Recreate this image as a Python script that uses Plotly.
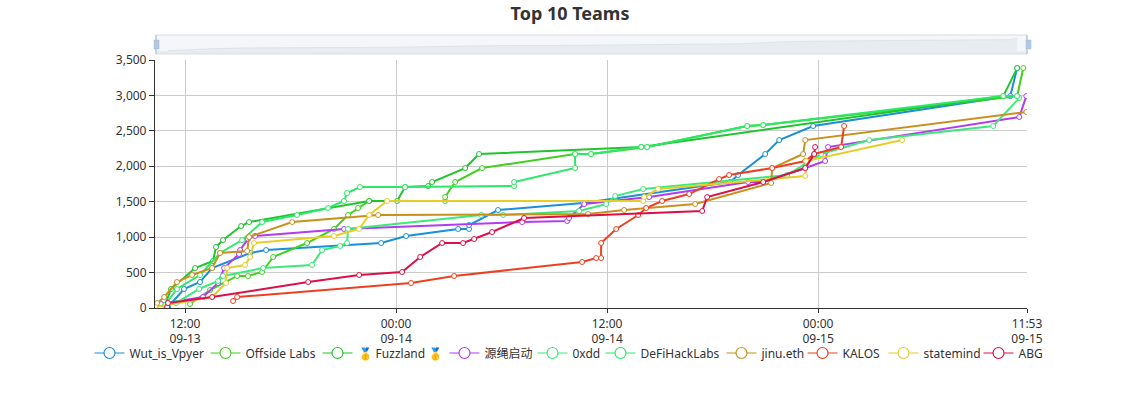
import pandas as pd
import plotly.graph_objects as go

START = pd.Timestamp("2023-09-13 00:00")

team_names = ["Wut_is_Vpyer", "Offside Labs", "🥇 Fuzzland 🥇", "源绳启动", "0xdd",
              "DeFiHackLabs", "jinu.eth", "KALOS", "statemind", "ABG"]
team_colors = ["#1a90d8", "#40d020", "#22c42e", "#b13cf0", "#3ee87a",
               "#2de868", "#c8901e", "#ee4020", "#e8cc28", "#dc1048"]

wut_hours = [11.03, 11.94, 12.85, 13.54, 15.70, 16.61, 23.15, 24.57, 27.53, 28.15, 28.15, 29.80, 34.64, 43.0, 43.45, 44.99, 45.79, 47.72, 58.93, 59.32]
wut_scores = [14, 268, 367, 564, 776, 818, 917, 1016, 1115, 1115, 1171, 1383, 1482, 1778, 1877, 2173, 2370, 2568, 2991, 3386]

offside_hours = [12.28, 13.42, 14.96, 15.58, 16.38, 17.01, 18.94, 20.47, 21.27, 21.84, 22.47, 26.79, 26.79, 27.36, 28.89, 34.18, 35.09, 38.28, 43.97, 44.88, 59.32, 59.67]
offside_scores = [56, 254, 452, 452, 508, 720, 917, 1115, 1312, 1411, 1510, 1510, 1566, 1778, 1975, 2173, 2173, 2272, 2568, 2582, 2991, 3386]

fuzzland_hours = [10.86, 11.20, 12.57, 13.59, 13.76, 14.16, 15.19, 15.64, 22.47, 24.06, 24.51, 25.82, 26.05, 27.93, 28.72, 37.94, 58.53, 59.32]
fuzzland_scores = [42, 268, 564, 663, 861, 959, 1157, 1213, 1510, 1510, 1707, 1721, 1778, 1975, 2173, 2272, 2991, 3386]

yuansheng_hours = [10.63, 13.02, 13.88, 14.22, 15.07, 15.13, 15.58, 15.98, 21.04, 31.17, 33.73, 33.84, 34.70, 38.39, 44.02, 44.88, 47.27, 48.40, 48.57, 59.44, 59.84]
yuansheng_scores = [56, 155, 353, 564, 762, 818, 973, 1016, 1115, 1213, 1227, 1270, 1467, 1566, 1778, 1778, 1975, 2074, 2272, 2695, 2991]

oxdd_hours = [11.49, 12.80, 13.88, 14.16, 16.44, 19.22, 19.79, 20.82, 21.21, 21.27, 28.84, 30.09, 34.41, 35.95, 36.46, 38.05, 46.24, 48.18, 50.91, 57.96, 59.44]
oxdd_scores = [70, 268, 381, 452, 564, 607, 818, 875, 917, 1115, 1312, 1312, 1369, 1467, 1580, 1679, 1877, 2173, 2370, 2568, 2963]

defi_hours = [10.86, 11.54, 12.85, 13.99, 15.24, 16.38, 18.37, 20.13, 21.04, 21.21, 21.95, 24.51, 30.71, 30.71, 34.18, 34.18, 35.09, 37.94, 38.28, 43.97, 44.88, 58.53, 59.32]
defi_scores = [42, 268, 466, 776, 959, 1213, 1312, 1411, 1510, 1622, 1707, 1707, 1721, 1778, 1975, 2173, 2173, 2272, 2272, 2568, 2582, 2991, 2991]

jinu_hours = [10.18, 10.41, 10.81, 11.54, 12.40, 13.54, 13.99, 15.53, 15.64, 18.09, 22.98, 34.92, 36.97, 41.01, 45.33, 45.39, 47.15, 47.27, 59.84]
jinu_scores = [14, 70, 155, 367, 466, 564, 776, 804, 1002, 1213, 1312, 1326, 1383, 1467, 1764, 1975, 2173, 2370, 2766]

kalos_hours = [14.73, 14.96, 24.85, 27.30, 34.58, 35.38, 35.66, 35.66, 36.52, 37.77, 38.22, 39.13, 40.67, 42.37, 42.94, 45.39, 47.27, 47.78, 49.31, 49.48]
kalos_scores = [99, 155, 353, 452, 649, 705, 705, 917, 1115, 1312, 1411, 1510, 1608, 1820, 1877, 1975, 2074, 2173, 2272, 2568]

statemind_hours = [10.29, 13.54, 14.33, 14.39, 15.41, 15.70, 15.92, 20.47, 21.90, 22.47, 23.49, 38.05, 38.11, 38.90, 47.27, 47.32, 52.78]
statemind_scores = [14, 155, 353, 564, 607, 720, 917, 1016, 1115, 1312, 1510, 1510, 1566, 1679, 1863, 2074, 2370]

abg_hours = [10.98, 11.03, 13.54, 19.0, 21.90, 24.34, 25.37, 26.62, 27.81, 28.44, 29.46, 31.28, 41.41, 41.69, 44.88, 47.27, 47.78, 47.83]
abg_scores = [14, 70, 155, 367, 466, 508, 720, 917, 917, 973, 1072, 1270, 1369, 1566, 1778, 1975, 2173, 2272]

all_hours = [wut_hours, offside_hours, fuzzland_hours, yuansheng_hours, oxdd_hours,
             defi_hours, jinu_hours, kalos_hours, statemind_hours, abg_hours]
all_scores = [wut_scores, offside_scores, fuzzland_scores, yuansheng_scores, oxdd_scores,
              defi_scores, jinu_scores, kalos_scores, statemind_scores, abg_scores]

tick_hours = [12, 24, 36, 48, 59.88]
tick_labels = ["12:00<br>09-13", "00:00<br>09-14", "12:00<br>09-14", "00:00<br>09-15", "11:53<br>09-15"]
score_ticks = [0, 500, 1000, 1500, 2000, 2500, 3000, 3500]
score_labels = ["0", "500", "1,000", "1,500", "2,000", "2,500", "3,000", "3,500"]
x_range_hours = [10.29, 59.88]


def to_time(hours):
    return [START + pd.Timedelta(hours=h) for h in hours]


FONT = "Noto Sans, Noto Sans CJK SC, sans-serif"
W, H = 1140, 400
L, R, PT, B = 155, 1027, 30, 308
AX_TOP = 60
SL_TOP, SL_BOT = 35, 54
PH = B - PT
PW = R - L
legend_line_starts = [98, 214, 326, 453, 541, 609, 730, 811, 892, 987]


def py(pixel_y):
    return (B - pixel_y) / PH


def px(pixel_x):
    return (pixel_x - L) / PW


fig = go.Figure()

# slider data shadow
fig.add_trace(go.Scatter(
    x=to_time(wut_hours), y=wut_scores, xaxis="x2", yaxis="y2", mode="lines",
    line=dict(color="#dfe3e9", width=1), fill="tozeroy", fillcolor="#e8ebf0",
    showlegend=False, hoverinfo="skip"))

for name, color, hrs, vals in zip(team_names, team_colors, all_hours, all_scores):
    fig.add_trace(go.Scatter(
        x=to_time(hrs), y=vals, mode="lines+markers", name=name, showlegend=False,
        line=dict(color=color, width=2),
        marker=dict(symbol="circle", size=5, color="white", line=dict(color=color, width=1))))

legend_layouts = {}
for i, (name, color, start) in enumerate(zip(team_names, team_colors, legend_line_starts)):
    key = "legend" if i == 0 else f"legend{i + 1}"
    fig.add_trace(go.Scatter(
        x=[None], y=[None], mode="lines+markers", name=name, showlegend=True, legend=key,
        line=dict(color=color, width=1.2),
        marker=dict(symbol="circle", size=11, color="white", line=dict(color=color, width=1.2))))
    legend_layouts[key] = dict(
        orientation="h", x=px(start - 8.5), xanchor="left", y=py(353), yanchor="middle",
        font=dict(size=12, color="#333"), itemwidth=30,
        bgcolor="rgba(0,0,0,0)")

x_range = to_time(x_range_hours)
fig.update_layout(
    width=W, height=H, autosize=False,
    margin=dict(l=L, r=W - R, t=PT, b=H - B, pad=0, autoexpand=False),
    paper_bgcolor="white", plot_bgcolor="white",
    font=dict(family=FONT, size=12, color="#333"),
    title=dict(text="Top 10 Teams", x=570 / W, xanchor="center", y=1 - 14 / H, yanchor="middle",
               font=dict(size=18, color="#333", family=FONT, weight="bold")),
    showlegend=True,
    xaxis=dict(domain=[0, 1], range=x_range, tickmode="array",
               tickvals=to_time(tick_hours), ticktext=tick_labels, tickangle=0,
               showgrid=True, gridcolor="#ccc", gridwidth=1,
               showline=True, linecolor="#333", linewidth=1.2,
               ticks="outside", ticklen=4, tickcolor="#333",
               tickfont=dict(size=12, color="#333"), zeroline=False, anchor="y"),
    yaxis=dict(domain=[0, py(AX_TOP)], range=[0, 3500], tickmode="array",
               tickvals=score_ticks, ticktext=score_labels,
               showgrid=True, gridcolor="#ccc", gridwidth=1,
               showline=True, linecolor="#333", linewidth=1.2,
               ticks="outside", ticklen=5, tickcolor="#333",
               tickfont=dict(size=12, color="#333"), zeroline=False, anchor="x"),
    xaxis2=dict(domain=[0, 1], range=x_range, anchor="y2", visible=False, fixedrange=True),
    yaxis2=dict(domain=[py(SL_BOT), py(SL_TOP)],
                range=[-846, 4230], anchor="x2", visible=False, fixedrange=True),
    shapes=[
        dict(type="rect", xref="paper", yref="paper", x0=px(156), x1=1, y0=py(SL_BOT), y1=py(SL_TOP),
             fillcolor="#f4f6f9", line=dict(width=0), layer="below"),
        dict(type="rect", xref="paper", yref="paper", x0=px(156), x1=1, y0=py(SL_BOT), y1=py(SL_BOT - 3),
             fillcolor="#e8ebf0", line=dict(width=0), layer="below"),
        dict(type="rect", xref="paper", yref="paper", x0=px(156), x1=1, y0=py(SL_BOT), y1=py(SL_TOP),
             fillcolor="rgba(0,0,0,0)", line=dict(color="#d8dde6", width=1), layer="above"),
        dict(type="line", xref="paper", yref="paper", x0=px(156), x1=px(156), y0=py(SL_BOT), y1=py(SL_TOP),
             line=dict(color="#a9bdd8", width=1), layer="above"),
        dict(type="line", xref="paper", yref="paper", x0=1, x1=1, y0=py(SL_BOT), y1=py(SL_TOP),
             line=dict(color="#a9bdd8", width=1), layer="above"),
        dict(type="rect", xref="paper", yref="paper", layer="above",
             x0=px(154), x1=px(159), y0=py(49), y1=py(40),
             fillcolor="#b4c8e2", line=dict(color="#9fb6d2", width=0.5)),
        dict(type="rect", xref="paper", yref="paper", layer="above",
             x0=px(1026), x1=px(1031), y0=py(49), y1=py(40),
             fillcolor="#b4c8e2", line=dict(color="#9fb6d2", width=0.5)),
    ],
    **legend_layouts,
)

fig.write_html("out.html", post_script="document.body.style.margin='0';",
               config=dict(displayModeBar=False))
